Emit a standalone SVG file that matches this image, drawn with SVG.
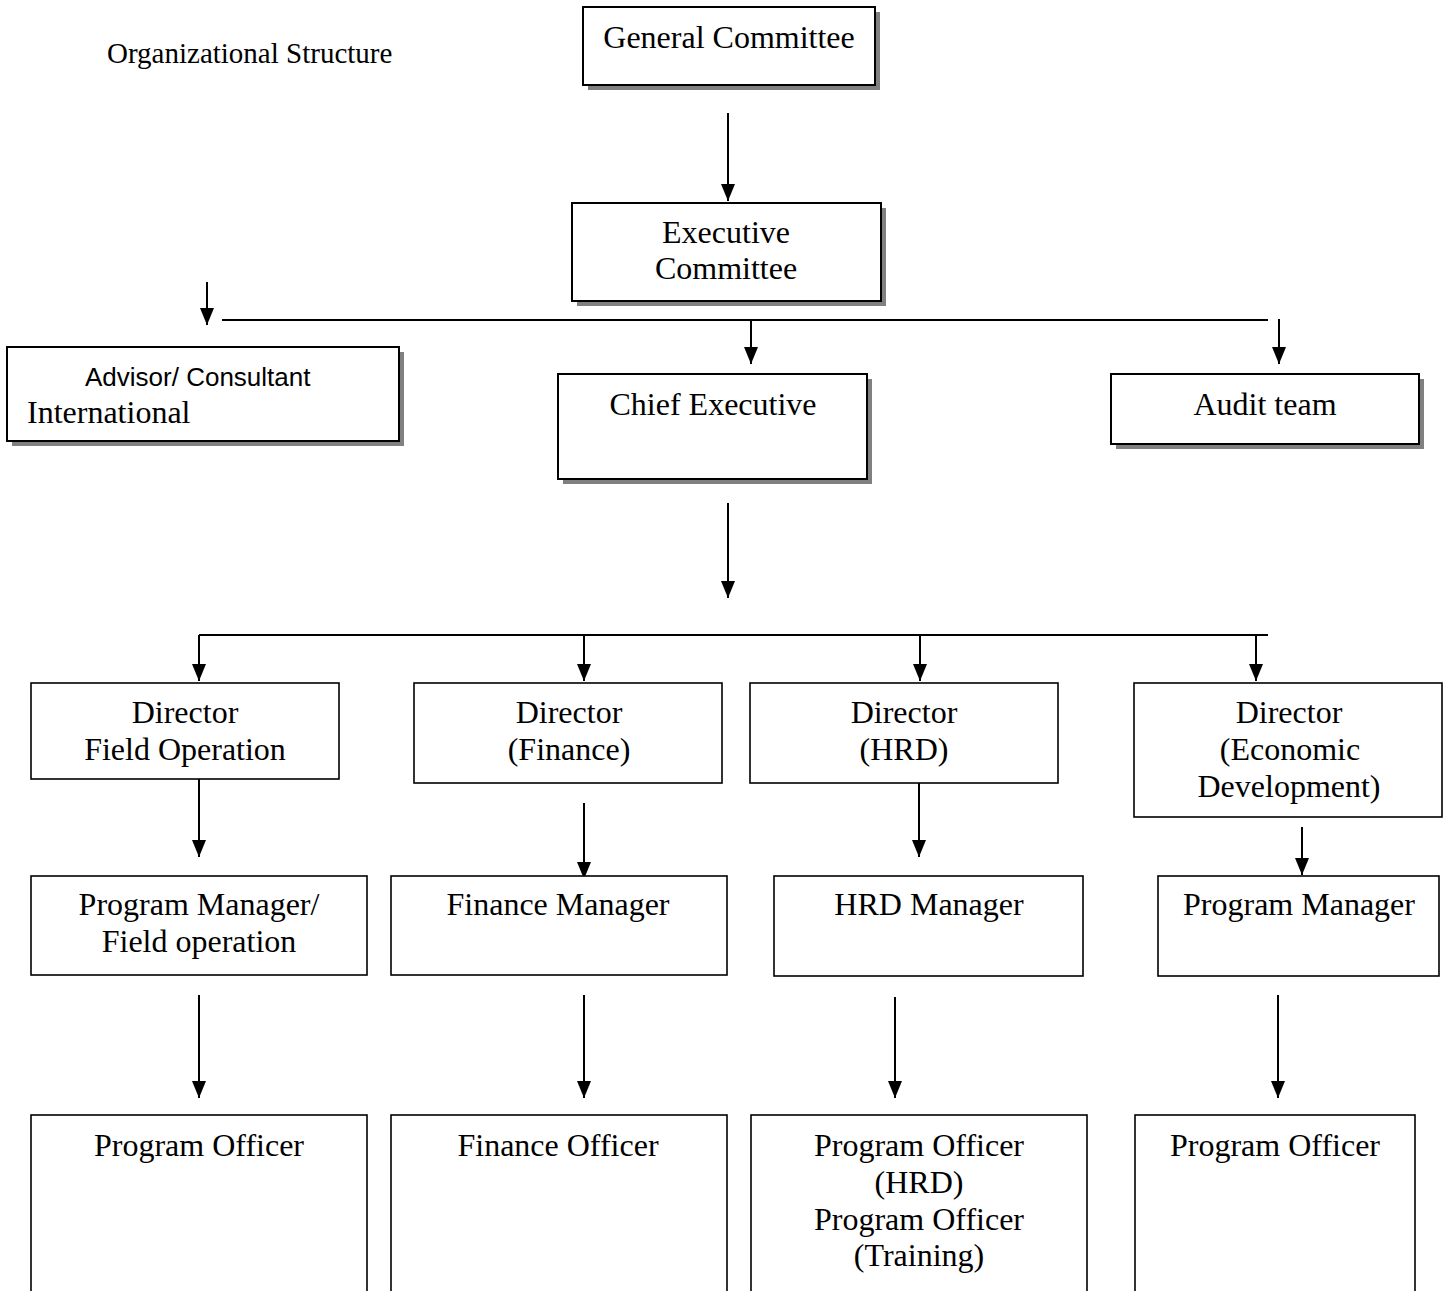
<svg xmlns="http://www.w3.org/2000/svg" width="1448" height="1291" viewBox="0 0 1448 1291">
<defs>
<marker id="ah" markerUnits="userSpaceOnUse" markerWidth="17" markerHeight="14" refX="17" refY="7" orient="auto">
<path d="M0,0 L17,7 L0,14 z" fill="#000"/>
</marker>
<style>
.t{font-family:"Liberation Serif","Times New Roman",serif;font-size:32px;fill:#000;text-anchor:middle}
.s{font-family:"Liberation Sans",Arial,sans-serif;font-size:26px;fill:#000}
.b{fill:#fff;stroke:#000;stroke-width:1.6}
.bs{fill:#fff;stroke:#000;stroke-width:2}
.sh{fill:#808080}
.c{stroke:#000;stroke-width:2;fill:none}
.a{stroke:#000;stroke-width:2;fill:none;marker-end:url(#ah)}
</style>
</defs>
<rect width="1448" height="1291" fill="#fff"/>
<text x="107" y="63" style="font-family:'Liberation Serif','Times New Roman',serif;font-size:29px">Organizational Structure</text>

<g id="connectors">
<line class="a" x1="728" y1="113" x2="728" y2="201"/>
<line class="c" x1="222" y1="320" x2="1268" y2="320"/>
<line class="a" x1="207" y1="282" x2="207" y2="325"/>
<line class="a" x1="751" y1="320" x2="751" y2="364"/>
<line class="a" x1="1279" y1="319" x2="1279" y2="364"/>
<line class="a" x1="728" y1="503" x2="728" y2="598"/>
<line class="c" x1="199" y1="635" x2="1268" y2="635"/>
<line class="a" x1="199" y1="635" x2="199" y2="681"/>
<line class="a" x1="584" y1="635" x2="584" y2="681"/>
<line class="a" x1="920" y1="635" x2="920" y2="681"/>
<line class="a" x1="1256" y1="635" x2="1256" y2="681"/>
<line class="a" x1="199" y1="779" x2="199" y2="857"/>
<line class="a" x1="584" y1="803" x2="584" y2="879"/>
<line class="a" x1="919" y1="779" x2="919" y2="857"/>
<line class="a" x1="1302" y1="827" x2="1302" y2="875"/>
<line class="a" x1="199" y1="995" x2="199" y2="1098"/>
<line class="a" x1="584" y1="995" x2="584" y2="1098"/>
<line class="a" x1="895" y1="997" x2="895" y2="1098"/>
<line class="a" x1="1278" y1="995" x2="1278" y2="1098"/>
</g>

<g id="general-committee">
<rect class="sh" x="588" y="12" width="292" height="78"/>
<rect class="bs" x="583" y="7" width="292" height="78"/>
<text class="t" x="729" y="48">General Committee</text>
</g>

<g id="executive-committee">
<rect class="sh" x="577" y="208" width="309" height="98"/>
<rect class="bs" x="572" y="203" width="309" height="98"/>
<text class="t" x="726" y="243">Executive</text>
<text class="t" x="726" y="279">Committee</text>
</g>

<g id="advisor">
<rect class="sh" x="12" y="352" width="392" height="94"/>
<rect class="bs" x="7" y="347" width="392" height="94"/>
<text class="s" x="85" y="386">Advisor/ Consultant</text>
<text x="27" y="423" style="font-family:'Liberation Serif','Times New Roman',serif;font-size:32px">International</text>
</g>

<g id="chief-executive">
<rect class="sh" x="563" y="379" width="309" height="105"/>
<rect class="bs" x="558" y="374" width="309" height="105"/>
<text class="t" x="713" y="415">Chief Executive</text>
</g>

<g id="audit-team">
<rect class="sh" x="1116" y="379" width="308" height="70"/>
<rect class="bs" x="1111" y="374" width="308" height="70"/>
<text class="t" x="1265" y="415">Audit team</text>
</g>

<g id="director-field">
<rect class="b" x="31" y="683" width="308" height="96"/>
<text class="t" x="185" y="723">Director</text>
<text class="t" x="185" y="760">Field Operation</text>
</g>

<g id="director-finance">
<rect class="b" x="414" y="683" width="308" height="100"/>
<text class="t" x="569" y="723">Director</text>
<text class="t" x="569" y="760">(Finance)</text>
</g>

<g id="director-hrd">
<rect class="b" x="750" y="683" width="308" height="100"/>
<text class="t" x="904" y="723">Director</text>
<text class="t" x="904" y="760">(HRD)</text>
</g>

<g id="director-economic">
<rect class="b" x="1134" y="683" width="308" height="134"/>
<text class="t" x="1289" y="723">Director</text>
<text class="t" x="1290" y="760">(Economic</text>
<text class="t" x="1289" y="797">Development)</text>
</g>

<g id="pm-field">
<rect class="b" x="31" y="876" width="336" height="99"/>
<text class="t" x="199" y="915">Program Manager/</text>
<text class="t" x="199" y="952">Field operation</text>
</g>

<g id="finance-manager">
<rect class="b" x="391" y="876" width="336" height="99"/>
<text class="t" x="558" y="915">Finance Manager</text>
</g>

<g id="hrd-manager">
<rect class="b" x="774" y="876" width="309" height="100"/>
<text class="t" x="929" y="915">HRD Manager</text>
</g>

<g id="pm-economic">
<rect class="b" x="1158" y="876" width="281" height="100"/>
<text class="t" x="1299" y="915">Program Manager</text>
</g>

<g id="po-field">
<rect class="b" x="31" y="1115" width="336" height="200"/>
<text class="t" x="199" y="1156">Program Officer</text>
</g>

<g id="finance-officer">
<rect class="b" x="391" y="1115" width="336" height="200"/>
<text class="t" x="558" y="1156">Finance Officer</text>
</g>

<g id="po-hrd">
<rect class="b" x="751" y="1115" width="336" height="200"/>
<text class="t" x="919" y="1156">Program Officer</text>
<text class="t" x="919" y="1193">(HRD)</text>
<text class="t" x="919" y="1230">Program Officer</text>
<text class="t" x="919" y="1266">(Training)</text>
</g>

<g id="po-economic">
<rect class="b" x="1135" y="1115" width="280" height="200"/>
<text class="t" x="1275" y="1156">Program Officer</text>
</g>
</svg>
